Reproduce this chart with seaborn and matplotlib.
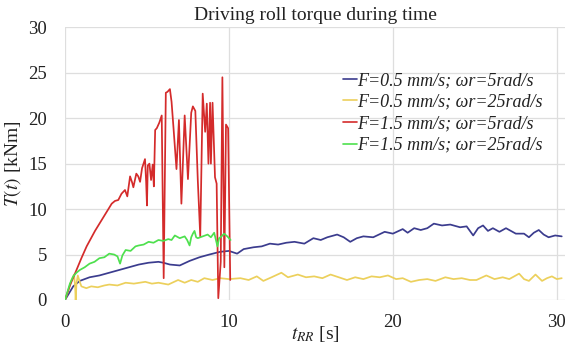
import numpy as np
import pandas as pd
import matplotlib
matplotlib.use("Agg")
import matplotlib.pyplot as plt
import seaborn as sns

labels = ["F=0.5 mm/s; ωr=5rad/s", "F=0.5 mm/s; ωr=25rad/s",
          "F=1.5 mm/s; ωr=5rad/s", "F=1.5 mm/s; ωr=25rad/s"]
colors = ["#3b3c8e", "#ecd05c", "#d42b2b", "#4ee04e"]

t_blue = [0, 0.5, 0.9, 1.5, 2.1, 2.7, 3.3, 3.9, 4.5, 5.1, 5.7, 6.0, 6.4, 7.0, 7.6, 8.2, 8.8, 9.46,
          10.0, 10.5, 10.9, 11.5, 12.0, 12.5, 13.0, 13.5, 14.0, 14.6, 15.15, 15.6, 16.0, 16.6, 17.0,
          17.4, 17.8, 18.2, 18.8, 19.5, 20.0, 20.6, 20.9, 21.3, 21.7, 22.1, 22.5, 23.0, 23.5, 24.1,
          24.5, 24.9, 25.2, 25.5, 25.8, 26.1, 26.5, 26.9, 27.2, 27.5, 28.0, 28.3, 28.6, 28.9, 29.2,
          29.5, 29.9, 30.3]
T_blue = [0, 1.5, 2.1, 2.5, 2.7, 3.0, 3.3, 3.6, 3.9, 4.1, 4.2, 4.1, 3.9, 3.8, 4.3, 4.7, 5.0, 5.3,
          5.4, 5.1, 5.6, 5.8, 5.9, 6.2, 6.1, 6.3, 6.4, 6.2, 6.8, 6.6, 6.9, 7.2, 6.9,
          6.4, 6.8, 7.0, 6.9, 7.5, 7.3, 7.8, 7.4, 7.9, 7.7, 7.9, 8.4, 8.2, 8.3, 8.0,
          8.1, 7.1, 7.9, 8.2, 7.6, 7.9, 7.5, 7.9, 7.6, 7.3, 7.3, 6.9, 7.4, 7.7, 7.2,
          6.9, 7.1, 7.0]

t_yellow = [0, 0.2, 0.4, 0.55, 0.62, 0.65, 0.7, 0.78, 0.9, 1.0, 1.3, 1.6, 2.0, 2.4, 2.7, 3.2, 3.7,
            4.2, 4.9, 5.3, 5.7, 6.3, 6.9, 7.3, 7.7, 8.1, 8.5, 9.0, 9.46, 10.0, 10.7, 11.2, 11.7,
            12.1, 12.6, 13.2, 13.6, 14.2, 14.7, 15.2, 15.7, 16.2, 16.7, 17.2, 17.7, 18.2, 18.7,
            19.2, 19.7, 20.2, 20.6, 21.1, 21.6, 22.1, 22.6, 23.2, 23.7, 24.2, 24.7, 25.1, 25.7,
            26.2, 26.7, 27.1, 27.7, 28.0, 28.3, 28.7, 29.1, 29.4, 29.7, 30.0, 30.3]
T_yellow = [0, 1.0, 2.2, 2.8, 1.5, 0.0, 1.8, 2.7, 2.0, 1.5, 1.3, 1.5, 1.4, 1.6, 1.7, 1.6, 1.9,
            1.8, 2.0, 1.8, 1.9, 1.7, 2.2, 1.9, 2.2, 2.0, 2.4, 2.2, 2.4, 2.3, 2.4, 2.2, 2.6,
            2.1, 2.5, 3.0, 2.5, 2.8, 2.5, 2.6, 2.4, 2.8, 2.5, 2.2, 2.5, 2.3, 2.6,
            2.5, 2.7, 2.3, 2.4, 2.0, 2.2, 2.3, 2.1, 2.5, 2.3, 2.4, 2.2, 2.2, 2.7,
            2.3, 2.5, 2.3, 2.9, 2.3, 2.1, 2.8, 2.1, 2.4, 2.6, 2.3, 2.4]

t_red = [0, 0.3, 0.7, 1.0, 1.32, 1.83, 2.34, 2.85, 3.05, 3.25, 3.45, 3.66, 3.8, 3.97, 4.1, 4.17,
         4.35, 4.47, 4.58, 4.7, 4.88, 4.95, 5.0, 5.05, 5.15, 5.25, 5.35, 5.42, 5.5, 5.6, 5.75, 5.9,
         6.02, 6.15, 6.25, 6.4, 6.5, 6.62, 6.8, 6.95, 7.1, 7.3, 7.5, 7.7, 7.8, 7.95, 8.1, 8.25,
         8.4, 8.55, 8.65, 8.75, 8.85, 8.9, 9.0, 9.15, 9.25, 9.35, 9.5, 9.6, 9.72, 9.82, 9.95, 10.08]
T_red = [0, 1.6, 3.3, 4.6, 5.9, 7.6, 9.1, 10.6, 10.9, 11.0, 11.7, 12.1, 11.4, 13.6, 12.9, 12.4,
         13.9, 13.6, 13.0, 14.5, 15.5, 13.0, 10.4, 14.8, 15.0, 13.2, 14.9, 12.5, 18.7, 18.9, 19.5, 20.3,
         2.4, 22.8, 22.9, 23.2, 21.8, 18.9, 14.4, 19.8, 10.6, 20.3, 13.3, 20.6, 21.3, 20.8, 13.2, 7.0,
         22.7, 18.5, 21.6, 15.0, 21.7, 15.0, 21.7, 13.5, 12.8, 0.2, 4.2, 24.5, 3.6, 19.3, 18.9, 2.2]

t_green = [0, 0.1, 0.3, 0.5, 0.7, 0.9, 1.2, 1.5, 1.8, 2.1, 2.4, 2.7, 3.0, 3.2, 3.36, 3.5, 3.7, 4.0,
           4.3, 4.5, 4.8, 5.1, 5.4, 5.7, 6.0, 6.3, 6.5, 6.7, 7.0, 7.3, 7.45, 7.6, 7.7, 7.8, 7.9,
           8.0, 8.1, 8.4, 8.7, 8.9, 9.1, 9.3, 9.4, 9.55, 9.7, 9.9, 10.1]
T_green = [0, 0.6, 1.8, 2.6, 3.0, 3.3, 3.6, 4.0, 4.2, 4.6, 4.7, 5.1, 5.0, 4.8, 4.0, 4.9, 5.5, 5.4,
           5.9, 6.0, 6.1, 6.4, 6.3, 6.6, 6.5, 6.7, 6.6, 7.1, 6.8, 7.0, 6.6, 6.0, 6.9, 7.3, 7.6,
           6.9, 6.8, 7.0, 7.2, 6.9, 7.4, 5.9, 6.8, 7.0, 7.3, 7.0, 6.6]

x_ticks = [0, 10, 20, 30]
y_ticks = [0, 5, 10, 15, 20, 25, 30]

frames = []
for lab, t, T in zip(labels, [t_blue, t_yellow, t_red, t_green],
                     [T_blue, T_yellow, T_red, T_green]):
    frames.append(pd.DataFrame({"t": t, "T": T, "series": lab}))
df = pd.concat(frames, ignore_index=True)

sns.set_theme(style="white")
plt.rcParams["font.family"] = ["Liberation Serif", "DejaVu Serif"]
plt.rcParams["mathtext.fontset"] = "stix"

fig = plt.figure(figsize=(5.65, 3.47), dpi=100)
ax = fig.add_axes([65 / 565, 1 - 300 / 347, 1 - 65 / 565, (300 - 27.3) / 347])

sns.lineplot(data=df, x="t", y="T", hue="series", hue_order=labels,
             palette=dict(zip(labels, colors)), sort=False, estimator=None,
             units="series", linewidth=1.25, ax=ax, legend=True)

ax.set_xlim(0, 30.5)
ax.set_ylim(0, 30)
ax.set_xticks(x_ticks)
ax.set_yticks(y_ticks)
ax.grid(True, color="#dedede", linewidth=0.9)
for s in ax.spines.values():
    s.set_visible(False)
ax.tick_params(axis="both", length=0, labelsize=13.5, colors="#222222")
ax.tick_params(axis="x", pad=10)
ax.tick_params(axis="y", pad=13)

ax.set_title("Driving roll torque during time", fontsize=14, color="#222222", pad=5)
ax.set_xlabel(r"$t_{RR}$ [s]", fontsize=14, color="#222222", labelpad=-5)
ax.set_ylabel(r"$T(t)$ [kNm]", fontsize=14, color="#222222", labelpad=4)

leg = ax.legend(loc="upper left", bbox_to_anchor=(0.556, 0.835), frameon=False,
                borderaxespad=0, borderpad=0,
                handlelength=0.75, handletextpad=0.05, labelspacing=0.25,
                prop={"family": "Liberation Serif", "style": "italic", "size": 13})
for line in leg.get_lines():
    line.set_linewidth(1.2)
for txt in leg.get_texts():
    txt.set_color("#222222")

fig.savefig("out.png", dpi=100)
